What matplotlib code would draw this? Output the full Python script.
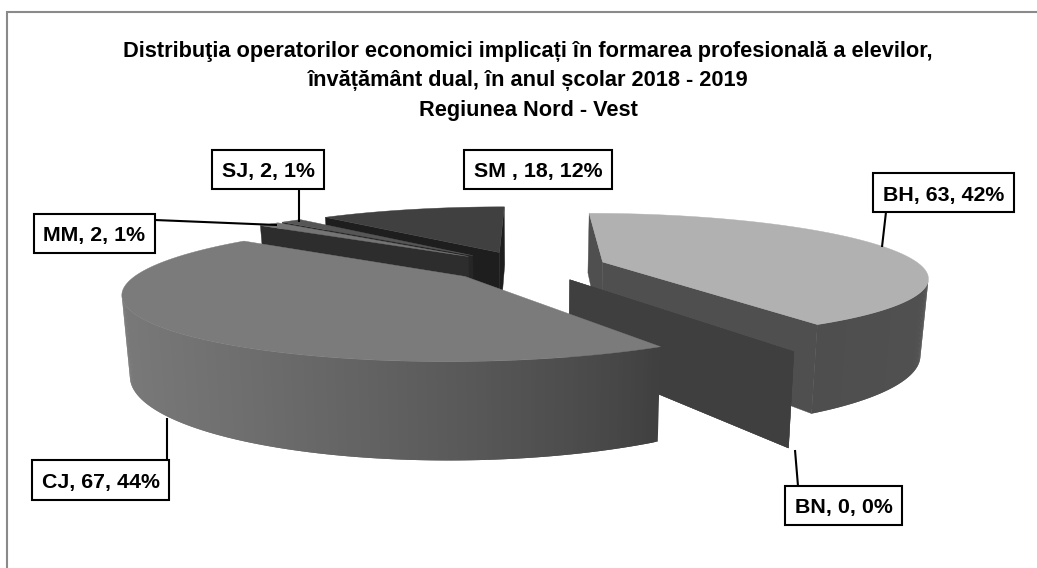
import numpy as np
import matplotlib
matplotlib.use("Agg")
import matplotlib.pyplot as plt
from matplotlib.patches import Polygon, Rectangle

# ---- data ----
regions = ["BH", "BN", "CJ", "MM", "SJ", "SM"]
values = [63, 0, 67, 2, 2, 18]
label_texts = ["BH, 63, 42%", "BN, 0, 0%", "CJ, 67, 44%", "MM, 2, 1%", "SJ, 2, 1%", "SM , 18, 12%"]
title_lines = [
    "Distribuţia operatorilor economici implicați în formarea profesională a elevilor,",
    "învățământ dual, în anul școlar 2018 - 2019",
    "Regiunea Nord - Vest",
]
top_colors = {"BH": "#b1b1b1", "BN": "#3f3f3f", "CJ": "#7b7b7b", "MM": "#747474", "SJ": "#565656", "SM": "#404040"}
cut_colors = {"BH": "#4f4f4f", "BN": "#3f3f3f", "CJ": "#4a4a4a", "MM": "#2d2d2d", "SJ": "#262626", "SM": "#1e1e1e"}
rim_colors = {"BH": ("#5a5a5a", "#4e4e4e"), "BN": ("#3f3f3f", "#3f3f3f"), "CJ": ("#3f3f3f", "#787878"),
              "MM": ("#2d2d2d", "#2d2d2d"), "SJ": ("#262626", "#262626"), "SM": ("#444444", "#444444")}
draw_order = ["SM", "SJ", "MM", "BH", "BN", "CJ"]

# ---- label layout (pixels) ----
label_boxes = {"BH": (873, 173, 1014, 212), "BN": (785, 486, 902, 525), "CJ": (32, 460, 169, 500),
               "MM": (34, 214, 155, 253), "SJ": (212, 150, 324, 189), "SM": (464, 150, 612, 189)}
leaders = {"BH": ((886, 212), (882, 247)), "BN": ((798, 486), (795, 450)), "CJ": ((167, 460), (167, 418)),
           "MM": ((155, 220), (277, 225)), "SJ": ((299, 189), (299, 222))}

# ---- camera ----
W, H_PX = 1037, 568
CX, CY, SX, SY, K, WALL, BOTTOM_SCALE, EXPLODE = 527.0, 266.0, 318.5, 61.0, 0.22, 73.5, 0.98, 0.25
FONT = "Liberation Sans"
LABEL_SIZE = 15.4
TITLE_SIZE = 15.7


def project(u, v, bottom=False):
    u, v = np.asarray(u, float), np.asarray(v, float)
    w = 1 + K * v
    x = u / w * SX * (BOTTOM_SCALE if bottom else 1.0) + CX
    y = CY - SY * v / w + (WALL / w if bottom else 0.0)
    return x, y


fig = plt.figure(figsize=(W / 100, H_PX / 100), dpi=100)
ax = fig.add_axes([0, 0, 1, 1])
ax.set_xlim(0, W)
ax.set_ylim(H_PX, 0)
ax.axis("off")

# chart frame
ax.plot([7, 7, W], [H_PX, 12, 12], color="#8a8a8a", lw=1.5, solid_joinstyle="miter")


def quad(p, color, z, lw=0.3):
    ax.add_patch(Polygon(p, closed=True, facecolor=color, edgecolor=color, lw=lw, zorder=z))


def facing(p):
    x, y = np.array(p).T
    return 0.5 * np.sum(x * np.roll(y, -1) - np.roll(x, -1) * y)


total = sum(values)
edges = np.concatenate([[0], np.cumsum(values)]) / total * 2 * np.pi
geom = {name: (edges[i], edges[i + 1]) for i, name in enumerate(regions)}

for z, name in enumerate(draw_order):
    a0, a1 = geom[name]
    mid = (a0 + a1) / 2
    ou, ov = EXPLODE * np.sin(mid), EXPLODE * np.cos(mid)
    n = max(3, int(np.degrees(a1 - a0) * 1.5))
    th = np.linspace(a0, a1, n)
    ru, rv = ou + np.sin(th), ov + np.cos(th)
    tx, ty = project(ru, rv)
    bx, by = project(ru, rv, bottom=True)
    atx, aty = project(ou, ov)
    abx, aby = project(ou, ov, bottom=True)

    # two cut faces (one shared plane for the empty slice)
    for i, sign in ((0, 1), (-1, -1)):
        p = [(atx, aty), (tx[i], ty[i]), (bx[i], by[i]), (abx, aby)]
        if a1 == a0 or sign * facing(p) < 0:
            quad(p, cut_colors[name], z * 10 + 1)

    # outer wall: strips overlap the next one so no seams show
    if a1 > a0:
        c0 = np.array(matplotlib.colors.to_rgb(rim_colors[name][0]))
        c1 = np.array(matplotlib.colors.to_rgb(rim_colors[name][1]))
        for j in range(n - 1):
            p0 = [(tx[j], ty[j]), (tx[j + 1], ty[j + 1]), (bx[j + 1], by[j + 1]), (bx[j], by[j])]
            if facing(p0) > 0:
                continue
            k = min(j + 2, n - 1)
            p = [(tx[j], ty[j]), (tx[k], ty[k]), (bx[k], by[k]), (bx[j], by[j])]
            if name == "CJ":
                f = np.clip((662 - tx[j]) / 530, 0, 1) ** 0.8
            else:
                f = (th[j] - a0) / (a1 - a0)
            quad(p, c0 + (c1 - c0) * f, z * 10 + 2 + j * 1e-4, lw=0)
        top = [(atx, aty)] + list(zip(tx, ty))
        quad(top, top_colors[name], z * 10 + 3)

# leaders
for name, (a, b) in leaders.items():
    ax.plot([a[0], b[0]], [a[1], b[1]], color="black", lw=1.5, zorder=200, solid_capstyle="butt")

# label boxes
for name, text in zip(regions, label_texts):
    x0, y0, x1, y1 = label_boxes[name]
    ax.add_patch(Rectangle((x0, y0), x1 - x0, y1 - y0, facecolor="white", edgecolor="black", lw=1.5, zorder=210))
    ax.text((x0 + x1) / 2, (y0 + y1) / 2 + 8, text, ha="center", va="baseline", zorder=220,
            fontsize=LABEL_SIZE, fontweight="bold", family=FONT)

# title
for y, line in zip((57, 86, 116), title_lines):
    ax.text(528, y, line, ha="center", va="baseline", fontsize=TITLE_SIZE, fontweight="bold",
            family=FONT, color="black")

fig.savefig("out.png", dpi=100, facecolor="white")
